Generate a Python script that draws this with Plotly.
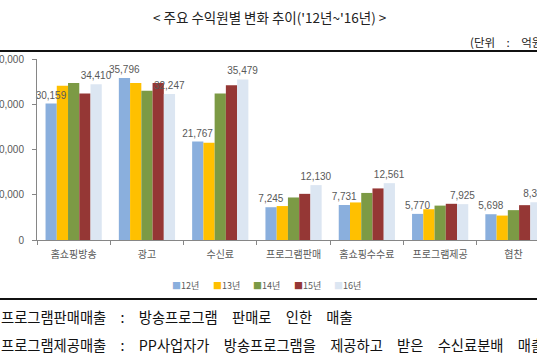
import plotly.graph_objects as go

categories = ["홈쇼핑방송", "광고", "수신료", "프로그램판매", "홈쇼핑수수료", "프로그램제공", "협찬"]
series_names = ["12년", "13년", "14년", "15년", "16년"]
v12 = [30159, 35796, 21767, 7245, 7731, 5770, 5698]
v13 = [34100, 34700, 21500, 7500, 8300, 6800, 5400]
v14 = [34700, 33000, 32400, 9400, 10400, 7600, 6600]
v15 = [32400, 34700, 34200, 10200, 11400, 8000, 7700]
v16 = [34410, 32247, 35479, 12130, 12561, 7925, 8340]
labeled = {"12년", "16년"}
colors = ["#8AAFDD", "#FFC000", "#7C9A45", "#953735", "#DCE6F2"]
y_ticks = [0, 10000, 20000, 30000, 40000]

values = [v12, v13, v14, v15, v16]

W, H = 537, 360
L, R, T, B = 37, 0, 59, 120
pw, ph = W - L - R, H - T - B
x_range = [-0.5, -0.5 + pw / 73.3]
y_range = [0, 40000]

fig = go.Figure()
# bars
for name, vals, col in zip(series_names, values, colors):
    fig.add_trace(go.Bar(
        x=categories, y=vals, name=name, marker_color=col,
        marker_line_width=0, showlegend=False, xaxis="x", yaxis="y",
    ))
# value labels on an overlaid axis so they sit above every bar
for name, vals in zip(series_names, values):
    show = name in labeled
    fig.add_trace(go.Bar(
        x=categories, y=vals, name=name, marker_color="rgba(0,0,0,0)",
        marker_line_width=0, showlegend=False, hoverinfo="skip",
        text=[f"{v:,}" for v in vals] if show else None,
        textposition="outside" if show else "none",
        textfont=dict(family="Liberation Sans, Arial", size=10, color="#595959"),
        constraintext="none", cliponaxis=False, xaxis="x2", yaxis="y2",
    ))

def px(x):
    return (x - L) / pw

def py(y):
    return (H - B - y) / ph

fig.update_layout(
    width=W, height=H,
    margin=dict(l=L, r=R, t=T, b=B, autoexpand=False),
    paper_bgcolor="white", plot_bgcolor="white",
    barmode="group", bargap=0.233, bargroupgap=0,
    font=dict(family="Noto Sans CJK KR", color="#595959"),
    xaxis=dict(
        range=x_range, showline=True, linecolor="#868686", linewidth=1,
        ticks="outside", tickson="boundaries", ticklen=4, tickcolor="#868686",
        tickfont=dict(family="Noto Sans CJK KR", size=10, color="#595959"),
        ticklabelstandoff=5, automargin=False, showgrid=False, zeroline=False,
    ),
    yaxis=dict(
        range=y_range, tickvals=y_ticks, ticktext=[f"{t:,}" for t in y_ticks],
        showline=True, linecolor="#868686", linewidth=1,
        ticks="outside", ticklen=4, tickcolor="#868686",
        tickfont=dict(family="Liberation Sans, Arial", size=10, color="#595959"),
        ticklabelstandoff=6, automargin=False, showgrid=False, zeroline=False,
    ),
    xaxis2=dict(range=x_range, overlaying="x", visible=False, showgrid=False, zeroline=False),
    yaxis2=dict(range=y_range, overlaying="y", visible=False, showgrid=False, zeroline=False),
)

SP = "\u3000"
ann = []
ann.append(dict(text="< 주요 수익원별 변화 추이('12년~'16년) >", x=px(269), y=py(17),
                xref="paper", yref="paper", xanchor="center", yanchor="middle", showarrow=False,
                font=dict(family="Noto Sans CJK KR", size=13.5, color="#222222")))
ann.append(dict(text=f"(단위{SP}:{SP}억원)", x=px(468), y=py(42),
                xref="paper", yref="paper", xanchor="left", yanchor="middle", showarrow=False,
                font=dict(family="Noto Sans CJK KR", size=11.5, color="#222222")))
# legend
lx = 170
for name, col in zip(series_names, colors):
    ann.append(dict(text=f"<span style='color:{col}'>■</span>{name}", x=px(lx), y=py(285),
                    xref="paper", yref="paper", xanchor="left", yanchor="middle", showarrow=False,
                    font=dict(family="Noto Sans CJK KR", size=9, color="#595959")))
    lx += 40.5
ann.append(dict(text=f"프로그램판매매출{SP}:{SP}방송프로그램{SP}판매로{SP}인한{SP}매출", x=px(-1), y=py(316),
                xref="paper", yref="paper", xanchor="left", yanchor="middle", showarrow=False,
                font=dict(family="Noto Sans CJK KR", size=14.3, color="#111111")))
ann.append(dict(text=f"프로그램제공매출{SP}:{SP}PP사업자가{SP}방송프로그램을{SP}제공하고{SP}받은{SP}수신료분배{SP}매출",
                x=px(-1), y=py(344),
                xref="paper", yref="paper", xanchor="left", yanchor="middle", showarrow=False,
                font=dict(family="Noto Sans CJK KR", size=14.3, color="#111111")))
fig.update_layout(annotations=ann)

fig.update_layout(shapes=[
    dict(type="line", xref="paper", yref="paper", x0=px(0), x1=1, y0=py(51), y1=py(51),
         line=dict(color="#111111", width=2)),
    dict(type="line", xref="paper", yref="paper", x0=px(0), x1=1, y0=py(299), y1=py(299),
         line=dict(color="#111111", width=2)),
])

fig.write_html("out.html", config={"displayModeBar": False},
               post_script="document.body.style.margin='0px';document.body.style.overflow='hidden';")
